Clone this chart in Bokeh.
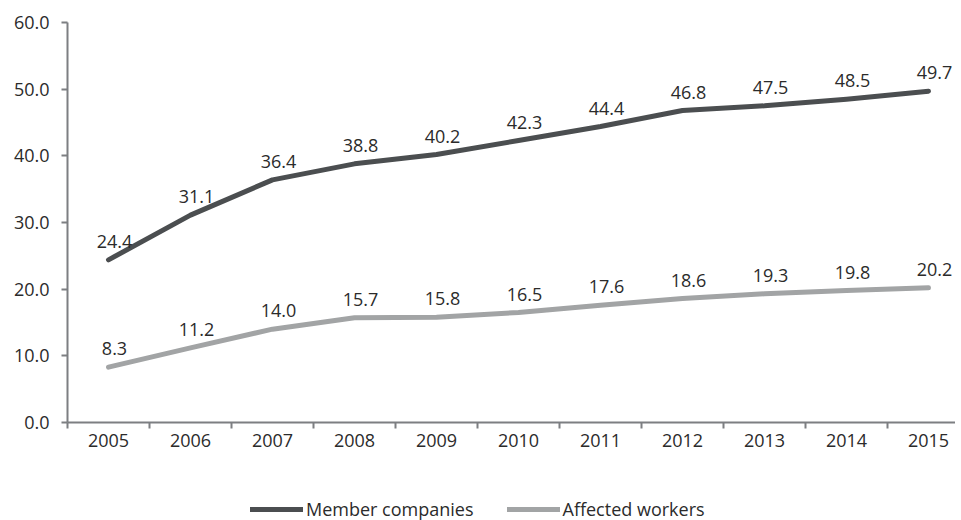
from bokeh.plotting import figure
from bokeh.layouts import column
from bokeh.models import (ColumnDataSource, FixedTicker, Range1d, Legend, LegendItem,
                          CustomJSTickFormatter, LabelSet)
from bokeh.core.properties import value
from bokeh.embed import file_html
from bokeh.resources import INLINE

years = [2005, 2006, 2007, 2008, 2009, 2010, 2011, 2012, 2013, 2014, 2015]
member_companies = [24.4, 31.1, 36.4, 38.8, 40.2, 42.3, 44.4, 46.8, 47.5, 48.5, 49.7]
affected_workers = [8.3, 11.2, 14.0, 15.7, 15.8, 16.5, 17.6, 18.6, 19.3, 19.8, 20.2]
y_ticks = [0, 10, 20, 30, 40, 50, 60]
series_names = ["Member companies", "Affected workers"]

FONT = "Open Sans"
TEXT_COLOR = "#2b2b2b"
AXIS_COLOR = "#7d7f82"
DARK = "#4b4e50"
LIGHT = "#a2a4a5"
W = 955

p = figure(width=W, height=458, output_backend="svg", toolbar_location=None,
           x_range=Range1d(2004.5, 2004.5 + (W - 67) / 82.0), y_range=Range1d(0, 60),
           min_border_left=67, min_border_right=0, min_border_top=22, min_border_bottom=36)
p.outline_line_color = None
p.grid.grid_line_color = None

src_m = ColumnDataSource(dict(x=years, y=member_companies,
                              lab=["%.1f" % v for v in member_companies]))
src_a = ColumnDataSource(dict(x=years, y=affected_workers,
                              lab=["%.1f" % v for v in affected_workers]))

line_kw = dict(line_width=5, line_cap="round", line_join="round")
p.line("x", "y", source=src_m, line_color=DARK, **line_kw)
p.line("x", "y", source=src_a, line_color=LIGHT, **line_kw)

for src in (src_m, src_a):
    p.add_layout(LabelSet(x="x", y="y", text="lab", source=src, x_offset=6, y_offset=12,
                          text_align="center", text_baseline="alphabetic",
                          text_font=value(FONT), text_font_size=value("18px"),
                          text_color=TEXT_COLOR))

# x axis: labels at year centers, ticks at category boundaries
xa = p.xaxis[0]
xa.ticker = FixedTicker(ticks=years, minor_ticks=[y - 0.5 for y in years] + [years[-1] + 0.5])
xa.major_tick_line_color = None
xa.minor_tick_line_color = AXIS_COLOR
xa.minor_tick_line_width = 2
xa.minor_tick_out = 6
xa.minor_tick_in = 0
xa.axis_line_color = AXIS_COLOR
xa.axis_line_width = 2
xa.major_label_text_font = FONT
xa.major_label_text_font_size = "18px"
xa.major_label_text_color = TEXT_COLOR
xa.major_label_standoff = 5
xa.formatter = CustomJSTickFormatter(code="return tick.toFixed(0);")

ya = p.yaxis[0]
ya.ticker = FixedTicker(ticks=y_ticks)
ya.formatter = CustomJSTickFormatter(code="return tick.toFixed(1);")
ya.axis_line_color = AXIS_COLOR
ya.axis_line_width = 2
ya.major_tick_line_color = AXIS_COLOR
ya.major_tick_line_width = 2
ya.major_tick_out = 6
ya.major_tick_in = 0
ya.minor_tick_line_color = None
ya.major_label_text_font = FONT
ya.major_label_text_font_size = "18px"
ya.major_label_text_color = TEXT_COLOR
ya.major_label_standoff = 12

# legend strip below the chart (series drawn off-view so the legend has glyph styles)
q = figure(width=W, height=62, output_backend="svg", toolbar_location=None,
           x_range=Range1d(0, 1), y_range=Range1d(-100, -99),
           min_border=0, x_axis_type=None, y_axis_type=None)
q.outline_line_color = None
q.grid.grid_line_color = None
lm = q.line(years, member_companies, line_color=DARK, **line_kw)
la = q.line(years, affected_workers, line_color=LIGHT, **line_kw)
legend = Legend(items=[LegendItem(label=series_names[0], renderers=[lm]),
                       LegendItem(label=series_names[1], renderers=[la])],
                orientation="horizontal", location=(183, -1),
                glyph_width=53, glyph_height=16, label_height=16, label_standoff=3,
                spacing=33, padding=0, margin=0, border_line_color=None,
                background_fill_alpha=0,
                label_text_font=FONT, label_text_font_size="18px", label_text_color=TEXT_COLOR)
q.add_layout(legend, "center")

layout = column(p, q, spacing=0)
open("out.html", "w").write(file_html(layout, INLINE))
